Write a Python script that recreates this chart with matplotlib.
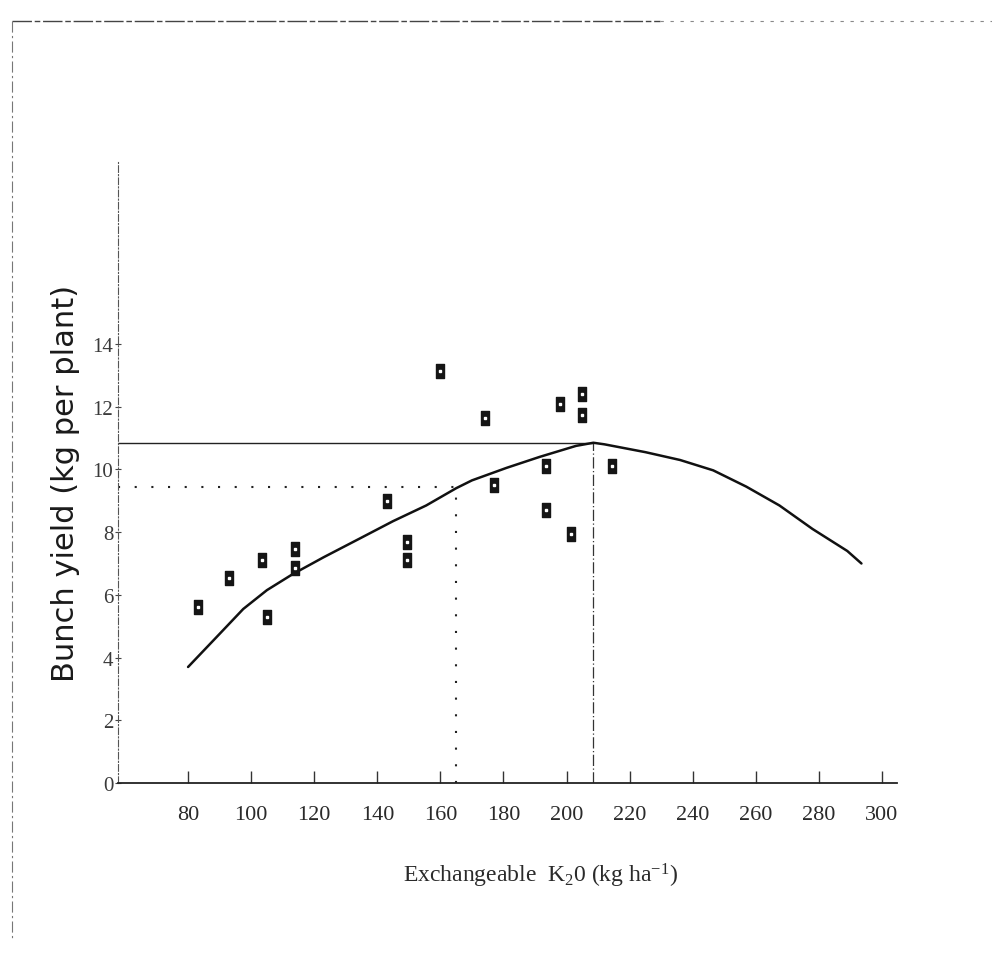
import matplotlib.pyplot as plt
from matplotlib.lines import Line2D
from matplotlib.path import Path


# observed bunch yield against exchangeable K2O
k2o = [83, 93, 103.5, 105, 114, 114, 143, 149.5, 149.5, 160,
       174, 177, 193.5, 193.5, 198, 201.5, 205, 205, 214.5]
bunch_yield = [5.6, 6.55, 7.1, 5.3, 7.45, 6.85, 9.0, 7.7, 7.1, 13.15,
               11.65, 9.5, 10.1, 8.7, 12.1, 7.95, 12.4, 11.75, 10.1]

# fitted response curve
curve_k2o = [80, 89, 97.5, 105, 113, 123, 134.5, 145, 155.5, 165, 170, 181,
             191.5, 203, 208.5, 212, 225, 236, 246.5, 257, 267.5, 278, 289, 293.5]
curve_yield = [3.7, 4.65, 5.55, 6.15, 6.65, 7.2, 7.8, 8.35, 8.85, 9.4, 9.65, 10.05,
               10.4, 10.75, 10.85, 10.8, 10.55, 10.3, 9.97, 9.45, 8.85, 8.1, 7.4, 7.0]

# maximum and critical levels
opt_k2o, opt_yield = 208.5, 10.85
crit_k2o, crit_yield = 165, 9.45

x_ticks = [80, 100, 120, 140, 160, 180, 200, 220, 240, 260, 280, 300]
y_ticks = [0, 2, 4, 6, 8, 10, 12, 14]

XMIN, XMAX = 57.8, 304.7
YMIN, YMAX = 0, 19.8


def main():

    plt.rcParams['font.family'] = ['Liberation Serif', 'DejaVu Serif']
    plt.rcParams['mathtext.default'] = 'regular'

    fig = plt.figure(figsize = (9.92, 9.62), dpi = 100)
    ax = fig.add_axes([0.119, 0.185, 0.785, 0.6455])

    ax.set_xlim(XMIN, XMAX)
    ax.set_ylim(YMIN, YMAX)

    # reference lines for maximum and critical yield
    ax.plot([XMIN, opt_k2o], [opt_yield, opt_yield], color = '#222222', lw = 1.0)
    ax.plot([opt_k2o, opt_k2o], [YMIN, opt_yield], color = '#333333', lw = 0.9,
            linestyle = (0, (9, 2, 1, 2)))
    ax.plot([XMIN, crit_k2o], [crit_yield, crit_yield], color = '#222222', lw = 1.5,
            linestyle = (0, (1, 7)))
    ax.plot([crit_k2o, crit_k2o], [YMIN, crit_yield], color = '#222222', lw = 1.5,
            linestyle = (0, (1, 7)))

    ax.plot(curve_k2o, curve_yield, color = '#111111', lw = 1.8,
            solid_capstyle = 'round', solid_joinstyle = 'round')

    # tall filled rectangles as point markers
    rect = Path([(-0.33, -0.5), (0.33, -0.5), (0.33, 0.5), (-0.33, 0.5), (-0.33, -0.5)],
                [Path.MOVETO, Path.LINETO, Path.LINETO, Path.LINETO, Path.CLOSEPOLY])
    ax.plot(k2o, bunch_yield, linestyle = 'none', marker = rect, markersize = 9.5,
            markerfacecolor = '#151515', markeredgecolor = '#151515', zorder = 4)
    ax.plot(k2o, bunch_yield, linestyle = 'none', marker = 's', markersize = 1.6,
            markerfacecolor = 'white', markeredgecolor = 'white', zorder = 5)

    for side in ('top', 'right'):
        ax.spines[side].set_visible(False)
    ax.spines['left'].set_linestyle((0, (6, 2, 1, 2)))
    ax.spines['left'].set_linewidth(0.8)
    ax.spines['left'].set_color('#555555')
    ax.spines['bottom'].set_linewidth(1.3)
    ax.spines['bottom'].set_color('#222222')

    ax.set_xticks(x_ticks)
    ax.set_xticklabels([str(v) for v in x_ticks])
    ax.set_yticks(y_ticks)
    ax.set_yticklabels([str(v) for v in y_ticks])
    ax.tick_params(axis = 'x', direction = 'in', length = 9, width = 1.0, color = '#333333',
                   pad = 16, labelsize = 16, labelcolor = '#2a2a2a')
    ax.tick_params(axis = 'y', direction = 'inout', length = 5, width = 0.8, color = '#444444',
                   pad = 1, labelsize = 15, labelcolor = '#3a3a3a')

    fig.text(0.545, 0.089, r'Exchangeable  K$_2$0 (kg ha$^{-1}$)', ha = 'center', va = 'center',
             fontsize = 17, color = '#2a2a2a')
    fig.text(0.066, 0.497, 'Bunch yield (kg per plant)', rotation = 90, ha = 'center',
             va = 'center', fontsize = 22, color = '#1a1a1a',
             family = ['DejaVu Sans'])

    # page frame
    fig.add_artist(Line2D([12 / 992, 660 / 992], [1 - 22 / 962] * 2, transform = fig.transFigure,
                          color = '#444444', lw = 1.0, linestyle = (0, (14, 2, 4, 2))))
    fig.add_artist(Line2D([660 / 992, 1.0], [1 - 22 / 962] * 2, transform = fig.transFigure,
                          color = '#888888', lw = 0.8, linestyle = (0, (3, 6))))
    fig.add_artist(Line2D([12 / 992] * 2, [1 - 22 / 962, 1 - 940 / 962], transform = fig.transFigure,
                          color = '#777777', lw = 0.8, linestyle = (0, (10, 3, 2, 3))))

    fig.savefig('out.png', dpi = 100)


if __name__ == '__main__':
    main()
